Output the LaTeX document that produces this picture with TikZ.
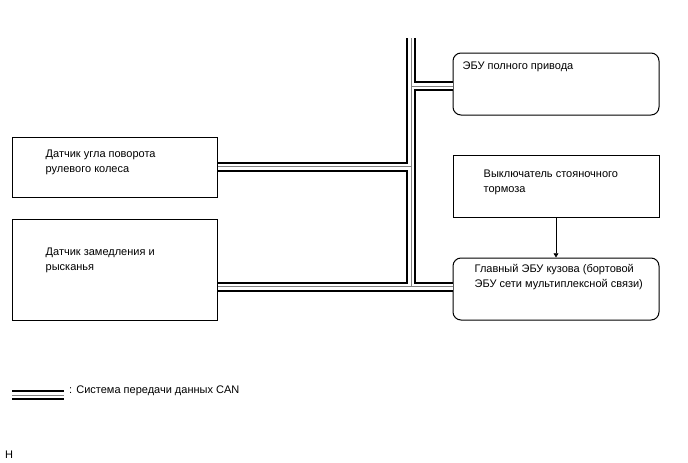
\documentclass[tikz,border=0pt]{standalone}
\usepackage{fontspec}
\setmainfont{Liberation Sans}
\usetikzlibrary{arrows.meta,positioning}

\begin{document}
\begin{tikzpicture}[x=1pt, y=-1pt, >=Triangle,
    unit/.style={draw, line width=1pt, minimum width=206pt, minimum height=62pt, inner sep=0pt},
    ecu/.style={unit, rounded corners=8pt},
    txt/.style={font=\fontsize{11}{15}\selectfont, align=left, inner sep=0pt}]
  \useasboundingbox (0,0) rectangle (688,463);
  % blocks
  \node[ecu] (fourwd) at (556,84) {};
  \node[unit, minimum width=205pt, minimum height=60pt] (steer) at (114.5,167) {};
  \node[unit, minimum width=205pt, minimum height=101pt] (yaw) at (114.5,269.5) {};
  \node[unit] (brake) at (556,186) {};
  \node[ecu] (body) at (556,289) {};
  % texts
  \node[txt, below right=9pt and 10pt of fourwd.north west] (t1) {ЭБУ полного привода};
  \node[txt, below right=13pt and 34pt of steer.north west] (t2) {Датчик угла поворота\\рулевого колеса};
  \node[txt, below right=29pt and 34pt of yaw.north west] (t3) {Датчик замедления и\\рысканья};
  \node[txt, below right=15pt and 31pt of brake.north west] (t4) {Выключатель стояночного\\тормоза};
  \node[txt, below right=7pt and 22pt of body.north west] (t5) {Главный ЭБУ кузова (бортовой\\ЭБУ сети мультиплексной связи)};
  % CAN bus
  \coordinate (bustop) at (411,38);
  \coordinate (busbot) at (411,286.5);
  \coordinate (j1) at (411,86);
  \coordinate (legA) at (12,395);
  \coordinate (legB) at (64,395);
  \foreach \w/\c in {10/black, 6/white, 1/gray} {
    \draw[line width=\w pt, \c] (bustop) -- (busbot)
      (j1) -- (j1 -| fourwd.west)
      ([yshift=0.5pt]steer.east) -- ([yshift=0.5pt]steer.east -| bustop)
      (yaw.east |- busbot) -- (body.west |- busbot)
      (legA) -- (legB);
  }
  % switch signal
  \draw[->, line width=0.6pt] (brake.south) -- (body.north);
  % legend
  \node[txt, anchor=west] (leg) at (69,391) {: Система передачи данных CAN};
  \node[txt, anchor=west] (hmark) at (5,455) {H};
\end{tikzpicture}
\end{document}
